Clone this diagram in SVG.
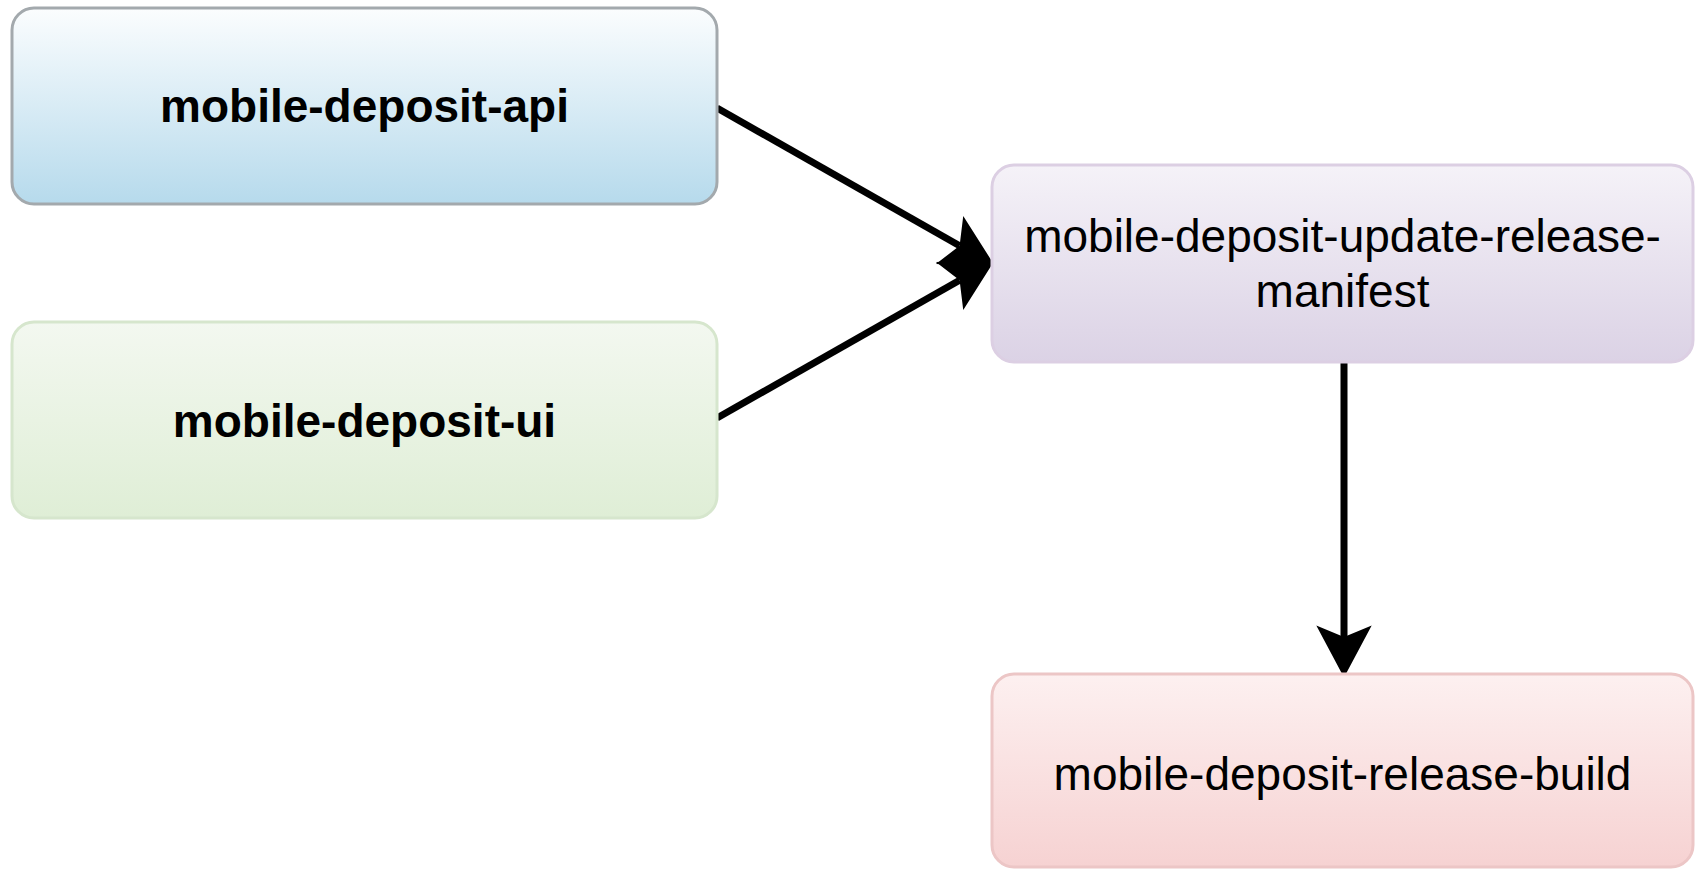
<svg xmlns="http://www.w3.org/2000/svg" width="1700" height="869" viewBox="0 0 1700 869">
<style>
.lbl{font-family:"Liberation Sans",Arial,Helvetica,sans-serif;font-size:46px;fill:#000;text-anchor:middle}
.b{font-weight:bold}
.edge{fill:none;stroke:#000;stroke-width:7;marker-end:url(#arr)}
</style>
<defs>
<linearGradient id="gBlue" x1="0" y1="0" x2="0" y2="1"><stop offset="0" stop-color="#fbfdfe"/><stop offset="1" stop-color="#b6daec"/></linearGradient>
<linearGradient id="gGreen" x1="0" y1="0" x2="0" y2="1"><stop offset="0" stop-color="#f3f8f0"/><stop offset="1" stop-color="#dfeed6"/></linearGradient>
<linearGradient id="gPurple" x1="0" y1="0" x2="0" y2="1"><stop offset="0" stop-color="#f5f2f8"/><stop offset="1" stop-color="#dbd2e5"/></linearGradient>
<linearGradient id="gRed" x1="0" y1="0" x2="0" y2="1"><stop offset="0" stop-color="#fdf0f0"/><stop offset="1" stop-color="#f6d2d2"/></linearGradient>
<marker id="arr" markerUnits="userSpaceOnUse" markerWidth="60" markerHeight="60" viewBox="-2 -26 50 52" refX="10" refY="0" orient="auto">
<path d="M0,-24 L45,0 L0,24 L10,0 Z" fill="#000"/>
</marker>
</defs>
<g id="edges">
<path class="edge" d="M717,108 L959.6,245.7"/>
<path class="edge" d="M717,418 L959.6,280.3"/>
<path class="edge" d="M1344,362 L1344,637"/>
</g>
<g id="node-api">
<rect x="12" y="8" width="705" height="196" rx="22" fill="url(#gBlue)" stroke="#a3a9ad" stroke-width="3"/>
<text class="lbl b" x="364.5" y="122">mobile-deposit-api</text>
</g>
<g id="node-ui">
<rect x="12" y="322" width="705" height="196" rx="22" fill="url(#gGreen)" stroke="#d6e6cd" stroke-width="3"/>
<text class="lbl b" x="364.5" y="437">mobile-deposit-ui</text>
</g>
<g id="node-manifest">
<rect x="992" y="165" width="701" height="197" rx="22" fill="url(#gPurple)" stroke="#dccfe3" stroke-width="3"/>
<text class="lbl" x="1342.5" y="252">mobile-deposit-update-release-</text>
<text class="lbl" x="1342.5" y="307">manifest</text>
</g>
<g id="node-build">
<rect x="992" y="674" width="701" height="193" rx="22" fill="url(#gRed)" stroke="#ecc6c6" stroke-width="3"/>
<text class="lbl" x="1342.5" y="790">mobile-deposit-release-build</text>
</g>
</svg>
